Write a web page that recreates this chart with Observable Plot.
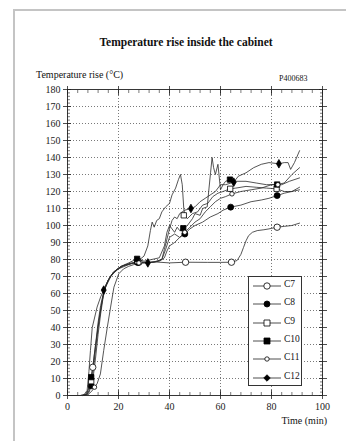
<!DOCTYPE html>
<html><head><meta charset="utf-8">
<script src="https://cdn.jsdelivr.net/npm/d3@7"></script>
<script src="https://cdn.jsdelivr.net/npm/@observablehq/plot@0.6"></script>
<style>
body{margin:0;background:#fff;font-family:"Liberation Serif","DejaVu Serif",serif;}
#wrap{position:relative;width:346px;height:441px;overflow:hidden;background:#fff;}
#edge{position:absolute;left:13px;top:9px;width:400px;height:500px;border-left:2px solid #c4c4c4;border-top:2px solid #c4c4c4;pointer-events:none;}
.t{position:absolute;white-space:nowrap;color:#111;}
#title{left:0;width:372px;text-align:center;top:36px;font-weight:bold;font-size:11.5px;}
#ylab{left:36px;top:69px;font-size:10px;}
#code{left:279px;top:74px;font-size:8px;}
#xlab{right:19px;top:415px;font-size:10px;}
#legend{position:absolute;left:248px;top:276px;width:52px;height:108px;border:1px solid #333;background:#fff;}
.row{position:absolute;left:0;height:12px;width:52px;}
.row svg{position:absolute;left:4px;top:0;}
.row span{position:absolute;left:35px;top:-1px;font-size:9.5px;color:#111;}
</style></head>
<body>
<div id="wrap">
  <div id="chart"></div>
  <div id="edge"></div>
  <div class="t" id="title">Temperature rise inside the cabinet</div>
  <div class="t" id="ylab">Temperature rise (°C)</div>
  <div class="t" id="code">P400683</div>
  <div class="t" id="xlab">Time (min)</div>
  <div id="legend"></div>
</div>
<script>
// ---- data (time in min, temperature rise in °C) ----
const seriesNames = ["C7", "C8", "C9", "C10", "C11", "C12"];

const c7 = [[0,0],[5,0],[7,0.5],[8,3],[9,8],[9.9,16.6],[10.5,24],[11.5,35],[12.5,46],[13.5,55],[14.5,62],[16,68],[18,72.5],[20,75],[23,77],[26,78],[28,78.4],[35,78.5],[40,78],[46.3,78.4],[55,78.3],[60,78.3],[64.3,78.4],[66.5,79.4],[68,83],[69,87],[70,91],[71,94],[72.5,96],[74.4,97],[77,97.5],[79,98],[82.2,99],[85,99.5],[88,100],[91,101.4]];
const c8 = [[0,0],[6,0],[7.5,0.5],[8.5,2],[9.3,5.7],[10,10],[11,22],[12,36],[13,48],[14,58],[15,64],[17,70],[19,73.5],[22,76.5],[25,78],[27.5,78.2],[32,78],[36,79],[38,81],[39,85],[40,88],[42,90],[44,93],[46,95],[48,98],[50,100],[53,102],[56,105],[59,107],[61,109],[64,110.8],[68,112],[72,114],[76,115],[79,116],[82.2,117.6],[85,119],[88,120],[91,122.5]];
const c9 = [[0,0],[6,0],[7.5,0.5],[8.5,3],[9.3,8.4],[10,14],[11,27],[12,40],[13,50],[14,59],[15,65],[17,70.5],[20,74.5],[24,77],[27.5,79],[30,82],[31.5,88],[32.5,97],[33.2,102],[34,99],[35,103],[36,104],[37,108],[38.5,111],[40,113],[41,118],[42.4,122],[43.5,127],[44.3,130],[45,124],[45.6,110],[46,106],[47,104],[49,107],[51,108],[53,112],[55,113],[57,117],[59,119],[61,120],[63.8,121.6],[66,122],[70,123],[74,122.5],[78,122],[82,121.6],[85,120],[88,120],[91,121]];
const c10 = [[0,0],[6,0],[7.5,1],[8.5,5],[9.3,10.8],[10,17],[11,30],[12,43],[13,53],[14.2,61],[16,68],[18,72.5],[21,76],[24,78],[27.3,80.4],[30,79],[33,80],[36,81],[38,88],[39,96],[40,100],[41,98],[42,96],[43,99],[44,97],[45.4,98.4],[47,100],[49,104],[50,107],[52,106],[53,110],[54.8,111],[55.5,122],[56.1,131],[56.7,140],[57.3,134],[58,130],[59,136],[60,121],[61,124],[62,126],[63.7,127],[66,126],[70,126],[74,125],[78,124],[82.2,124.1],[85,125],[88,130],[91,134]];
const c11 = [[0,0],[6,0],[8,0.5],[9.5,2.5],[10.6,4.9],[11.6,6.9],[12.9,12.7],[14.2,26.5],[15.6,40],[16.9,52],[18.2,63.7],[20.1,71.6],[22,74.5],[24,76],[26,77],[28,78],[34,78.5],[37,80],[38.5,86],[40,93],[42,95],[44,93],[46,96],[48,99],[50,102],[52,104],[54,108],[56,111],[58,114],[60,116],[62,117],[64.5,118.6],[68,120],[72,121],[76,122],[80,124],[82.5,124],[84,124],[87,126],[91,128]];
const c12 = [[0,0],[5,0],[6.5,0.5],[7.7,3],[8.4,14],[9,26.5],[9.7,40],[10.5,45],[11.6,52],[13,58],[14.2,62],[16,68],[18,72.5],[21,76],[25,77.5],[28,78],[31.5,78],[35,79],[37,80],[38,86],[39,92],[40,98],[41,103],[42,105],[43,104],[44,107],[46,109],[48.4,110],[50,111],[52,114],[54,116],[56,118],[58,120],[60,124],[62,124],[65.2,125.5],[67,129],[70,131],[73,134],[76,136],[79,137],[82.9,136.3],[85,137],[86.5,137],[87.5,133],[89,137],[91,144]];

const c7Marks = [[9.9,16.6],[28,78.4],[46.3,78.4],[64.3,78.4],[82.2,99]];
const c8Marks = [[9.3,5.7],[27.5,78.2],[46,95],[64,110.8],[82.2,117.6]];
const c9Marks = [[9.3,8.4],[27.5,79],[45.6,106],[63.8,121.6],[82,121.6]];
const c10Marks = [[9.3,10.8],[27.3,80.4],[45.4,98.4],[63.7,127],[82.2,124.1]];
const c11Marks = [[10.6,4.9],[28,78],[46,96],[64.5,118.6],[82.5,124]];
const c12Marks = [[14.2,62],[31.5,78],[48.4,110],[65.2,125.5],[82.9,136.3]];

const xTicks = [0, 20, 40, 60, 80, 100];
const yTicks = [0,10,20,30,40,50,60,70,80,90,100,110,120,130,140,150,160,170,180];

// ---- build tables ----
const curves = [c7, c8, c9, c10, c11, c12];
const marks = [c7Marks, c8Marks, c9Marks, c10Marks, c11Marks, c12Marks];
const lineData = curves.flatMap((arr, i) => arr.map(([t, v]) => ({series: seriesNames[i], t, v})));
const markData = marks.flatMap((arr, i) => arr.map(([t, v]) => ({series: seriesNames[i], t, v})));

const style = {
  C7:  {symbol: "circle", r: 3.2, fill: "white"},
  C8:  {symbol: "circle", r: 3.0, fill: "black"},
  C9:  {symbol: "square", r: 3.0, fill: "white"},
  C10: {symbol: "square", r: 3.0, fill: "black"},
  C11: {symbol: "circle", r: 2.2, fill: "white"},
  C12: {symbol: "diamond", r: 2.6, fill: "black"}
};

const minorY = d3.range(0, 181, 2);
const minorX = d3.range(0, 101, 4);
const ink = "#222";
const ax = (fn, ticks, opts) => fn(ticks, {label: null, stroke: ink, ...opts});

const plot = Plot.plot({
  width: 346, height: 441,
  marginLeft: 67, marginRight: 24, marginTop: 89, marginBottom: 46,
  style: {fontFamily: "'Liberation Serif', serif", fontSize: "10px", color: ink, background: "white"},
  x: {domain: [0, 100], label: null},
  y: {domain: [0, 180], label: null},
  marks: [
    Plot.gridY(yTicks.filter(d => d > 0 && d < 180), {stroke: "#444", strokeOpacity: 0.9, strokeDasharray: "1,2", strokeWidth: 0.8}),
    Plot.gridX(xTicks.filter(d => d > 0 && d < 100), {stroke: "#444", strokeOpacity: 0.9, strokeDasharray: "1,2", strokeWidth: 0.8}),
    // minor ticks (inward)
    ax(Plot.axisY, minorY, {anchor: "left", tickSize: -3, text: null, strokeWidth: 0.6}),
    ax(Plot.axisY, minorY, {anchor: "right", tickSize: -3, text: null, strokeWidth: 0.6}),
    ax(Plot.axisX, minorX, {anchor: "bottom", tickSize: -3, text: null, strokeWidth: 0.6}),
    ax(Plot.axisX, minorX, {anchor: "top", tickSize: -3, text: null, strokeWidth: 0.6}),
    // major ticks inward
    ax(Plot.axisY, yTicks, {anchor: "left", tickSize: -4, text: null, strokeWidth: 0.8}),
    ax(Plot.axisY, yTicks, {anchor: "right", tickSize: -4, text: null, strokeWidth: 0.8}),
    ax(Plot.axisX, xTicks, {anchor: "bottom", tickSize: -5, text: null, strokeWidth: 0.8}),
    ax(Plot.axisX, xTicks, {anchor: "top", tickSize: -5, text: null, strokeWidth: 0.8}),
    // major ticks outward (labels on left and bottom)
    ax(Plot.axisY, yTicks, {anchor: "left", tickSize: 4, tickPadding: 3, fontSize: 10, strokeWidth: 0.8}),
    ax(Plot.axisY, yTicks, {anchor: "right", tickSize: 4, text: null, strokeWidth: 0.8}),
    ax(Plot.axisX, xTicks, {anchor: "bottom", tickSize: 4, tickPadding: 3, fontSize: 10, strokeWidth: 0.8}),
    ax(Plot.axisX, xTicks, {anchor: "top", tickSize: 4, text: null, strokeWidth: 0.8}),
    Plot.frame({stroke: ink, strokeWidth: 0.9}),
    Plot.line(lineData, {x: "t", y: "v", z: "series", stroke: "#2a2a2a", strokeWidth: 0.8, curve: "linear"}),
    ...seriesNames.map(name => Plot.dot(markData.filter(d => d.series === name), {
      x: "t", y: "v", symbol: style[name].symbol, r: style[name].r,
      fill: style[name].fill, stroke: "black", strokeWidth: 0.8
    }))
  ]
});
document.getElementById("chart").appendChild(plot);

// ---- legend (HTML) ----
const legend = document.getElementById("legend");
seriesNames.forEach((name, i) => {
  const row = document.createElement("div");
  row.className = "row";
  row.style.top = (3 + i * 18.3) + "px";
  const s = style[name];
  const sym = d3.symbol().type(s.symbol === "circle" ? d3.symbolCircle : s.symbol === "square" ? d3.symbolSquare : d3.symbolDiamond2)
    .size(s.symbol === "circle" ? Math.PI * s.r * s.r : s.symbol === "square" ? (2 * s.r) ** 2 : 2 * s.r * s.r * 2)();
  row.innerHTML = `<svg width="30" height="12"><line x1="0" x2="28" y1="6" y2="6" stroke="#222" stroke-width="0.8"/>` +
    `<path d="${sym}" transform="translate(14,6)" fill="${s.fill}" stroke="black" stroke-width="0.8"/></svg><span>${name}</span>`;
  legend.appendChild(row);
});
</script>
</body></html>
